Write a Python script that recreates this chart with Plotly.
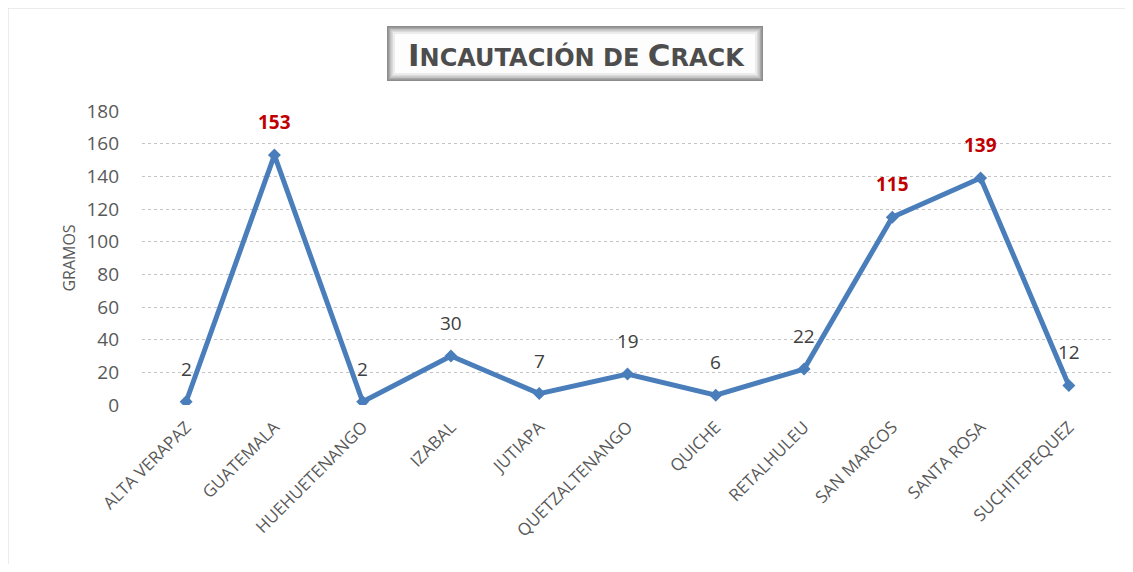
import plotly.graph_objects as go

departamentos = ["ALTA VERAPAZ", "GUATEMALA", "HUEHUETENANGO", "IZABAL", "JUTIAPA",
                 "QUETZALTENANGO", "QUICHE", "RETALHULEU", "SAN MARCOS", "SANTA ROSA",
                 "SUCHITEPEQUEZ"]
gramos = [2, 153, 2, 30, 7, 19, 6, 22, 115, 139, 12]
destacados = [False, True, False, False, False, False, False, False, True, True, False]
y_ticks = [0, 20, 40, 60, 80, 100, 120, 140, 160, 180]

# figure is placed at page offset (8, 8) by the html body margin
OFF = 8
L, T = 142 - OFF, 111 - OFF
PW, PH = 971, 294
W, H = 1117, 556


def px(xp):
    return (xp - OFF - L) / PW


def py(yp):
    return (T + PH - (yp - OFF)) / PH


fig = go.Figure()
fig.add_trace(go.Scatter(
    x=departamentos, y=gramos, mode="lines+markers",
    line=dict(color="#4a7ebb", width=5),
    marker=dict(symbol="diamond", size=10, color="#4a7ebb"),
    hoverinfo="x+y", showlegend=False,
))

for d, v, h in zip(departamentos, gramos, destacados):
    fig.add_annotation(
        x=d, y=v, yshift=33, showarrow=False,
        text=f"<b>{v}</b>" if h else str(v),
        font=dict(family="Open Sans, sans-serif", size=19,
                  color="#c00000" if h else "#404040"),
    )

# title box (bevelled look)
bevel = ["#8c8c8c", "#a8a8a8", "#c2c2c2", "#dadada", "#ececec"]
for i, c in enumerate(bevel):
    fig.add_shape(type="rect", xref="paper", yref="paper",
                  x0=px(388 + i * 1.5), x1=px(762 - i * 1.5),
                  y0=py(80 - i * 1.5), y1=py(27 + i * 1.5),
                  line=dict(color=c, width=2),
                  fillcolor="#fdfdfd" if i == len(bevel) - 1 else "rgba(0,0,0,0)",
                  layer="above")
big = "font-size:31px"
fig.add_annotation(
    xref="paper", yref="paper", x=px(576), y=py(55), yanchor="middle",
    showarrow=False,
    text=(f"<b><span style='{big}'>I</span>NCAUTACIÓN DE "
          f"<span style='{big}'>C</span>RACK</b>"),
    font=dict(family="DejaVu Sans, sans-serif", size=24, color="#4d4d4d"),
)

# outer chart border (top and left)
fig.add_shape(type="line", xref="paper", yref="paper",
              x0=px(8), x1=px(1133), y0=py(8), y1=py(8),
              line=dict(color="#d9d9d9", width=1))
fig.add_shape(type="line", xref="paper", yref="paper",
              x0=px(8), x1=px(8), y0=py(8), y1=py(572),
              line=dict(color="#d9d9d9", width=1))

fig.update_layout(
    width=W, height=H,
    margin=dict(l=L, r=W - L - PW, t=T, b=H - T - PH),
    paper_bgcolor="white", plot_bgcolor="white",
    font=dict(family="Open Sans, sans-serif", color="#595959"),
    xaxis=dict(
        tickangle=-45, tickfont=dict(size=17, color="#595959"),
        showgrid=False, showline=False, zeroline=False, ticks="",
        ticklabelstandoff=8,
        range=[-0.5, len(departamentos) - 0.5],
    ),
    yaxis=dict(
        range=[0, 180], tickvals=y_ticks, tickfont=dict(size=19, color="#595959"),
        showgrid=True, gridcolor="#c4c4c4", gridwidth=1, griddash="dot",
        zeroline=False, showline=False, ticks="", ticklabelstandoff=22,
        title=dict(text="GRAMOS", font=dict(size=16, color="#595959"), standoff=6),
    ),
)

fig.write_html("out.html")
